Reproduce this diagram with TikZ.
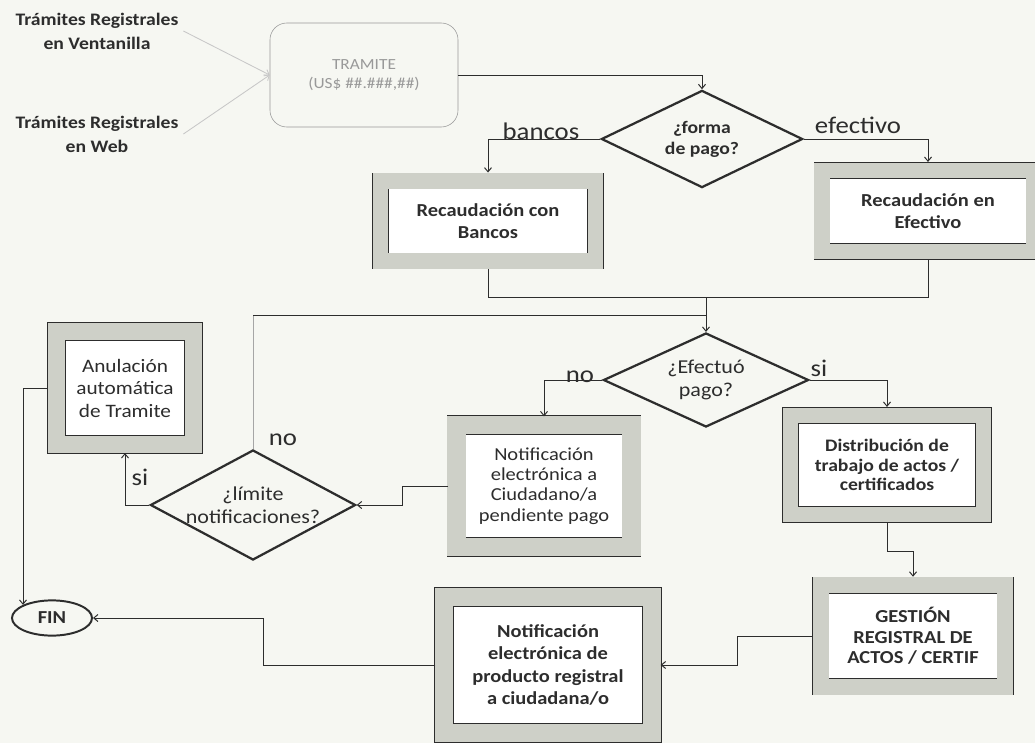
\documentclass[tikz,border=0pt]{standalone}
\usepackage{fontspec}
\setmainfont{Carlito}[FakeStretch=1.12]
\usetikzlibrary{shapes.geometric,arrows.meta}
\definecolor{paper}{RGB}{246,247,242}
\definecolor{ink}{RGB}{45,45,45}
\definecolor{frame}{RGB}{206,208,200}

\begin{document}
\begin{tikzpicture}[x=0.025cm,y=-0.025cm,
  proc/.style={draw=ink, line width=0.5pt, double=frame, double distance=11pt, fill=white,
    outer sep=6pt, align=center, text=ink, font=\fontsize{13}{16}\selectfont\bfseries},
  decision/.style={draw=ink, line width=1.6pt, diamond, align=center, text=ink, inner sep=0pt},
  lbl/.style={text=ink, font=\fontsize{17}{20}\selectfont},
  inbox/.style={text=ink, align=center, font=\fontsize{12.5}{17}\selectfont\bfseries},
  link/.style={draw=ink, line width=0.7pt, >={Straight Barb[length=3pt,width=5pt]}},
  faint/.style={draw=black!22, line width=0.6pt, >={Straight Barb[length=3pt,width=5pt]}}]
\fill[paper] (0,0) rectangle (1035,743);
\useasboundingbox (0,0) rectangle (1035,743);

\node[inbox] (ven) at (97,31) {Trámites Registrales\\en Ventanilla};
\node[inbox] (web) at (97,134) {Trámites Registrales\\en Web};
\node[draw=black!40, rounded corners=12pt, minimum width=4.7cm, minimum height=2.6cm, text=black!40,
  align=center, font=\fontsize{11}{14}\selectfont] (tramite) at (364,75) {TRAMITE\\(US\$ \#\#.\#\#\#,\#\#)};

\node[decision, aspect=2.07, minimum width=5.03cm, minimum height=2.43cm,
  font=\fontsize{12.5}{15}\selectfont\bfseries] (forma) at (702,139) {¿forma\\de pago?};
\node[proc, minimum width=5.375cm, minimum height=2cm] (bancos) at (488,221) {Recaudación con\\Bancos};
\node[proc, minimum width=5.3cm, minimum height=2.03cm] (efect) at (928,211) {Recaudación en\\Efectivo};

\node[decision, aspect=2.18, minimum width=5.13cm, minimum height=2.35cm,
  font=\fontsize{14}{16}\selectfont] (efectuo) at (706,380) {¿Efectuó\\pago?};
\node[proc, minimum width=3.43cm, minimum height=2.83cm, double distance=12pt,
  font=\fontsize{13.5}{16}\selectfont] (anul) at (125,388) {Anulación\\automática\\de Tramite};
\node[decision, aspect=1.87, minimum width=5.13cm, minimum height=2.75cm,
  font=\fontsize{14}{16}\selectfont] (limite) at (253,505) {¿límite\\notificaciones?};
\node[proc, minimum width=4.375cm, minimum height=3.06cm, double distance=13pt,
  font=\fontsize{13}{14.5}\selectfont] (pend) at (544,486) {Notificación\\electrónica a\\Ciudadano/a\\pendiente pago};
\node[proc, minimum width=4.83cm, minimum height=2.48cm,
  font=\fontsize{12.5}{14}\selectfont\bfseries] (distrib) at (887,465) {Distribución de\\trabajo de actos /\\certificados};
\node[proc, minimum width=4.61cm, minimum height=2.54cm,
  font=\fontsize{13}{14.5}\selectfont\bfseries] (gestion) at (913,636) {GESTIÓN\\REGISTRAL DE\\ACTOS / CERTIF};
\node[proc, minimum width=5.21cm, minimum height=3.4cm, double distance=13pt] (prod) at (548,665)
  {Notificación\\electrónica de\\producto registral\\a ciudadana/o};
\node[draw=ink, line width=1.4pt, ellipse, minimum width=2cm, minimum height=0.88cm, text=ink,
  font=\fontsize{13}{15}\selectfont\bfseries] (fin) at (52,618) {FIN};

\node[lbl] (lbancos) at (541,131) {bancos};
\node[lbl] (lefect) at (858,125) {efectivo};
\node[lbl] (lno1) at (580,377) {no};
\node[lbl] (lsi1) at (819,368) {si};
\node[lbl] (lno2) at (283,440) {no};
\node[lbl] (lsi2) at (140,477) {si};

\coordinate (mrg) at (706,297);
\coordinate (mrg2) at (706,315);
\coordinate (turn) at (limite.north |- mrg2);

\path[faint,->] (ven.east) -- (tramite.west);
\path[faint,->] (web.east) -- (tramite.west);
\path[link,->] (tramite.east) -| (forma.north);
\path[link,->] (forma.west) -| (bancos.north);
\path[link,->] (forma.east) -| (efect.north);
\path[link] (bancos.south) |- (mrg);
\path[link] (efect.south) |- (mrg);
\path[link,->] (mrg) -- (efectuo.north);
\path[faint,draw=black!35] (limite.north) -- (turn);
\path[link] (turn) -- (mrg2);
\path[link,->] (efectuo.west) -| (pend.north);
\path[link,->] (efectuo.east) -| (distrib.north);
\path[link,->] (pend.west) -- ++(-46,0) |- (limite.east);
\path[link,->] (limite.west) -| (anul.south);
\path[link,->] (anul.west) -| (fin.north west);
\path[link,->] (distrib.south) -- ++(0,28) -| (gestion.north);
\path[link,->] (gestion.west) -- ++(-75,0) |- (prod.east);
\path[link,->] (prod.west) -- ++(-172,0) |- (fin.east);
\end{tikzpicture}
\end{document}
